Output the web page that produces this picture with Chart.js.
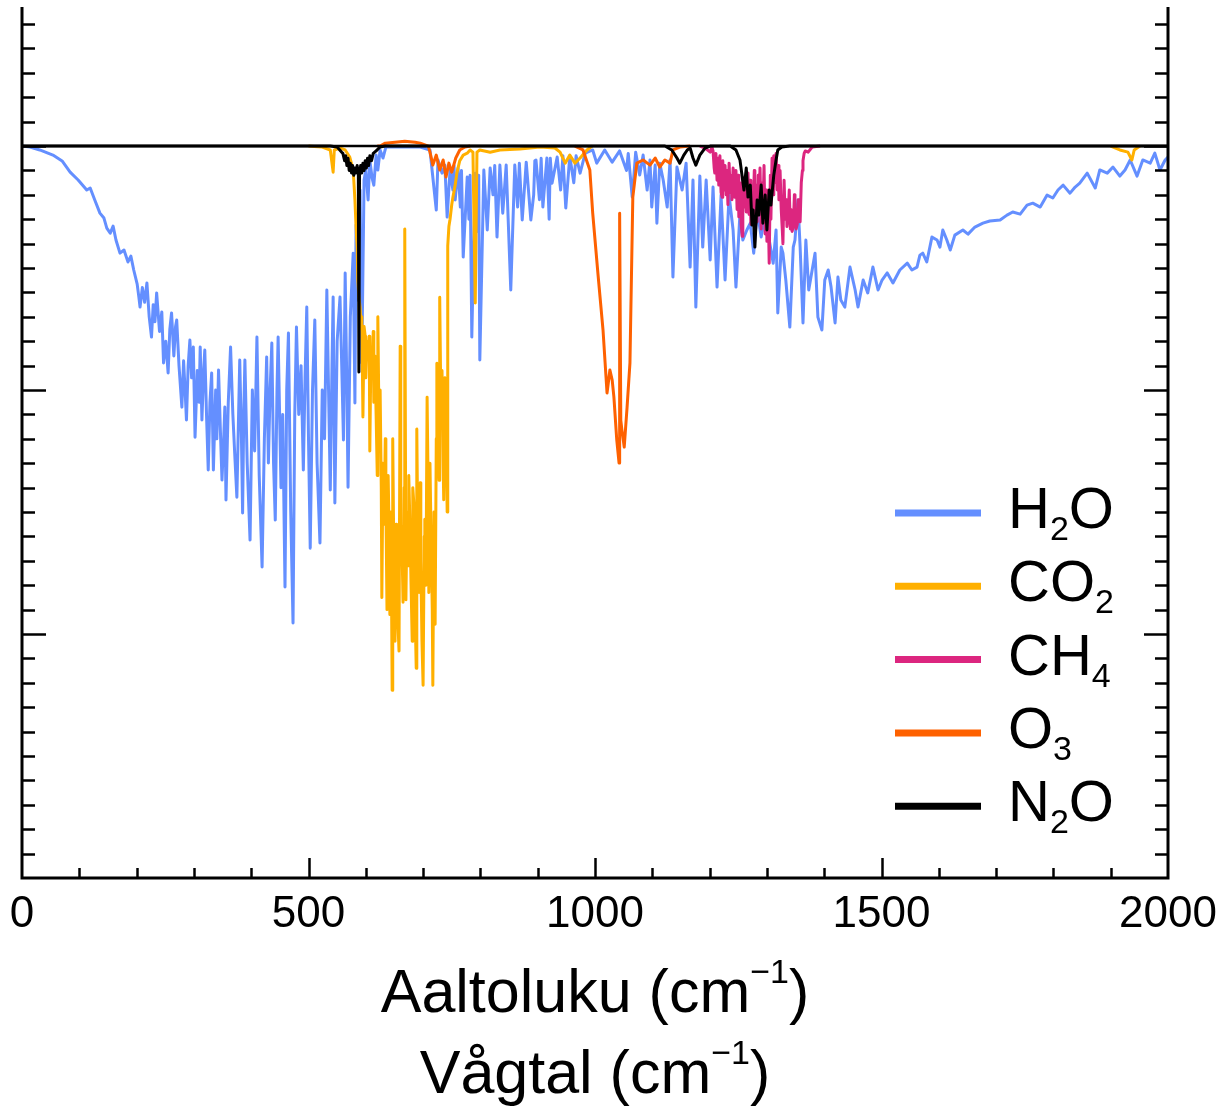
<!DOCTYPE html>
<html><head><meta charset="utf-8">
<script src="https://cdn.jsdelivr.net/npm/chart.js@4.4.1/dist/chart.umd.min.js"></script>
<style>html,body{margin:0;padding:0;background:#fff;}#wrap{width:1231px;height:1109px;position:relative;}</style>
</head><body><div id="wrap"><canvas id="c"></canvas></div>
<script>
// Wavenumber (cm-1), relative absorption (arbitrary units, 0 = baseline)
const h2o = [
[0,0],[14,-0.004],[31,-0.016],[54,-0.037],[70,-0.061],[84,-0.107],[98,-0.139],[113,-0.180],[119,-0.172],[127,-0.221],[136,-0.275],[143,-0.295],[148,-0.336],[154,-0.357],[159,-0.328],[164,-0.385],[171,-0.439],[178,-0.426],[185,-0.475],[190,-0.451],[195,-0.508],
[201,-0.566],[204,-0.62],[206,-0.660],[210,-0.58],[214,-0.64],[218,-0.561],[222,-0.70],[226,-0.783],[229,-0.65],[232,-0.72],[235,-0.602],[240,-0.76],[244,-0.68],[247,-0.889],[251,-0.80],[255,-0.930],[258,-0.75],[261,-0.684],[265,-0.86],[268,-0.74],[270,-0.713],[274,-0.90],[279,-1.070],[282,-0.88],[285,-1.02],[287,-1.123],[290,-0.90],[293,-0.795],[296,-0.95],[299,-0.824],[302,-1.193],[306,-0.92],[309,-1.05],[311,-0.824],[314,-1.123],[317,-0.92],[319,-0.836],[322,-1.10],[325,-1.328],[328,-1.05],[331,-0.930],[334,-1.328],[338,-1.00],[340,-1.20],[343,-0.918],[346,-1.15],[349,-1.369],[352,-1.20],[354,-1.070],[356,-1.451],[360,-1.05],[364,-0.824],[368,-1.10],[371,-1.25],[375,-1.439],[378,-1.10],[380,-0.877],[383,-1.20],[385,-1.504],[387,-1.10],[389,-0.877],[393,-1.30],[398,-1.615],[402,-1.00],[406,-1.25],[410,-0.783],[414,-1.35],[419,-1.725],[423,-1.20],[427,-0.865],[430,-1.299],[433,-1.00],[436,-0.807],[439,-1.30],[442,-1.533],[445,-1.00],[447,-0.783],[452,-1.40],[455,-1.10],[459,-1.807],[462,-1.00],[465,-0.766],[469,-1.50],[473,-1.955],[476,-1.10],[479,-0.742],[483,-1.10],[487,-0.90],[491,-1.328],[494,-0.95],[497,-0.660],[500,-1.20],[503,-1.648],[507,-1.00],[511,-0.713],[515,-1.30],[520,-1.627],[524,-1.00],[528,-1.20],[532,-0.590],[535,-1.00],[538,-1.410],[541,-0.90],[543,-0.619],[546,-1.463],[550,-0.80],[555,-0.619],[558,-0.90],[561,-1.205],[564,-0.520],[567,-1.00],[569,-1.398],[573,-0.70],[578,-0.439],
[581,-1.053],[583,-0.324],[586,-0.631],[590,-0.180],[593,-0.889],[597,-0.139],[600,-0.098],[604,-0.221],[607,-0.057],[611,-0.131],[614,-0.160],[618,-0.037],[621,-0.098],[625,-0.016],[630,-0.049],[635,-0.004],[695,-0.004],[712,-0.016],[723,-0.262],[726,-0.057],[733,-0.111],[738,-0.078],[742,-0.291],[747,-0.098],[752,-0.18],[754,-0.08],[756,-0.221],[761,-0.090],[765,-0.25],[767,-0.10],[770,-0.455],[777,-0.127],[780,-0.30],[782,-0.12],[785,-0.783],[791,-0.111],[795,-0.35],[797,-0.12],[799,-0.877],[806,-0.098],[812,-0.344],[817,-0.090],[822,-0.20],[825,-0.08],[829,-0.373],[834,-0.078],[839,-0.275],[845,-0.078],[853,-0.590],[860,-0.078],[865,-0.25],[868,-0.07],[873,-0.303],[880,-0.066],[888,-0.303],[893,-0.20],[895,-0.06],[897,-0.057],[903,-0.22],[906,-0.05],[909,-0.250],[916,-0.049],[920,-0.30],[922,-0.05],[925,-0.152],[934,-0.045],[940,-0.18],[944,-0.04],[949,-0.254],[956,-0.041],[963,-0.15],[967,-0.04],[974,-0.111],[983,-0.029],[996,-0.016],[1003,-0.070],[1017,-0.016],[1030,-0.066],[1043,-0.020],[1055,-0.10],[1058,-0.03],[1065,-0.209],[1071,-0.025],[1078,-0.119],[1084,-0.037],[1091,-0.180],[1096,-0.057],[1099,-0.250],[1105,-0.078],[1108,-0.316],[1113,-0.070],[1119,-0.139],[1126,-0.250],[1131,-0.057],[1136,-0.537],[1143,-0.086],[1152,-0.180],[1159,-0.070],[1166,-0.496],[1171,-0.139],[1176,-0.660],[1183,-0.123],[1188,-0.414],[1194,-0.139],[1201,-0.467],[1206,-0.168],[1213,-0.578],[1220,-0.201],[1227,-0.549],[1234,-0.201],[1241,-0.344],[1246,-0.578],[1253,-0.275],[1258,-0.385],[1265,-0.344],[1271,-0.316],[1277,-0.439],[1283,-0.262],[1290,-0.373],[1297,-0.275],[1305,-0.398],[1311,-0.480],[1316,-0.344],[1319,-0.684],[1325,-0.414],[1328,-0.439],[1333,-0.549],[1340,-0.742],[1346,-0.414],[1349,-0.385],[1354,-0.221],[1358,-0.414],[1363,-0.725],[1368,-0.385],[1373,-0.590],[1379,-0.508],[1384,-0.439],[1389,-0.701],[1396,-0.754],[1401,-0.549],[1407,-0.508],[1412,-0.578],[1419,-0.725],[1424,-0.537],[1429,-0.631],[1436,-0.660],[1445,-0.496],[1454,-0.590],[1459,-0.660],[1468,-0.549],[1476,-0.602],[1485,-0.496],[1494,-0.590],[1501,-0.549],[1510,-0.520],[1520,-0.561],[1532,-0.508],[1545,-0.480],[1553,-0.508],[1562,-0.496],[1567,-0.447],[1572,-0.439],[1579,-0.475],[1588,-0.373],[1597,-0.385],[1602,-0.414],[1607,-0.344],[1614,-0.385],[1620,-0.426],[1628,-0.365],[1642,-0.344],[1651,-0.361],[1663,-0.332],[1677,-0.316],[1689,-0.307],[1707,-0.303],[1719,-0.283],[1729,-0.270],[1742,-0.279],[1754,-0.242],[1764,-0.234],[1777,-0.250],[1789,-0.201],[1799,-0.213],[1808,-0.180],[1817,-0.160],[1829,-0.193],[1838,-0.168],[1846,-0.152],[1859,-0.111],[1873,-0.172],[1881,-0.098],[1894,-0.111],[1904,-0.086],[1916,-0.123],[1925,-0.098],[1934,-0.057],[1946,-0.123],[1956,-0.057],[1969,-0.070],[1977,-0.029],[1986,-0.098],[1995,-0.057],[2000,-0.045]
];
const co2 = [
[500,0],[510,-0.002],[524,-0.004],[538,-0.016],[543,-0.107],[545,-0.016],[555,-0.008],[564,-0.016],[572,-0.045],[578,-0.098],
[581,-0.22],[583,-0.33],[585,-0.42],[586,-0.55],[588,-0.62],[590,-0.66],[592,-0.75],[593,-0.70],[595,-1.11],[597,-0.74],[599,-0.78],[600,-0.95],[602,-0.80],[604,-0.86],[606,-0.78],[607,-1.25],[609,-0.84],[611,-0.92],[613,-0.76],[614,-1.05],[616,-0.86],[618,-1.10],[620,-1.35],[621,-0.70],[623,-1.12],[625,-1.00],[627,-1.40],[628,-1.85],[630,-1.30],[632,-1.55],[634,-1.20],[635,-1.45],[637,-1.90],[639,-1.35],[641,-1.62],[642,-1.92],[644,-1.50],[646,-2.23],[647,-1.20],[649,-1.70],[651,-2.03],[653,-1.55],[654,-1.75],[656,-1.95],[658,-2.07],[660,-0.82],[661,-1.55],[663,-1.62],[665,-1.87],[667,-1.40],[668,-0.34],[670,-1.86],[672,-1.50],[674,-1.72],[675,-1.35],[677,-1.55],[679,-1.80],[681,-2.03],[682,-1.40],[684,-1.47],[686,-1.90],[688,-2.14],[689,-1.16],[691,-1.65],[693,-1.83],[695,-1.38],[696,-1.70],[698,-2.03],[700,-2.21],[702,-1.60],[703,-1.53],[705,-1.80],[707,-1.03],[709,-1.45],[710,-1.83],[712,-1.30],[714,-1.62],[716,-1.90],[717,-2.21],[719,-1.50],[721,-1.96],[723,-1.20],[724,-0.89],[726,-1.25],[728,-1.37],[729,-0.62],[731,-1.05],[733,-0.92],[735,-1.30],[736,-1.45],[738,-0.95],[740,-1.12],[742,-1.50],[743,-0.41],[745,-0.33],[747,-0.30],[750,-0.24],[752,-0.21],[756,-0.16],[759,-0.11],[764,-0.06],
[770,-0.037],[777,-0.029],[782,-0.016],[787,-0.025],[791,-0.643],[794,-0.025],[799,-0.016],[817,-0.025],[834,-0.016],[869,-0.012],[904,-0.004],[930,-0.008],[939,-0.025],[948,-0.070],[956,-0.037],[965,-0.070],[974,-0.049],[986,-0.016],[995,0],[1000,null],
[1900,0],[1916,-0.016],[1930,-0.025],[1937,-0.057],[1941,-0.016],[1951,0]
];
const ch4 = [
[1183,0],[1192,-0.008],[1201,-0.025],[1204,-0.004],[1206,-0.02],[1208,-0.09],[1209,-0.11],[1211,-0.03],[1213,-0.14],[1215,-0.05],[1216,-0.16],[1218,-0.04],[1220,-0.19],[1222,-0.21],[1223,-0.06],[1225,-0.18],[1227,-0.08],[1229,-0.20],[1230,-0.10],[1232,-0.24],[1234,-0.07],[1236,-0.19],[1237,-0.12],[1239,-0.22],[1241,-0.09],[1243,-0.17],[1244,-0.21],[1246,-0.10],[1248,-0.26],[1250,-0.12],[1251,-0.29],[1253,-0.15],[1255,-0.32],[1257,-0.37],[1258,-0.13],[1260,-0.25],[1262,-0.15],[1264,-0.27],[1265,-0.24],[1267,-0.11],[1269,-0.28],[1271,-0.14],[1272,-0.32],[1274,-0.18],[1276,-0.27],[1278,-0.10],[1279,-0.30],[1281,-0.16],[1283,-0.31],[1285,-0.12],[1286,-0.25],[1288,-0.09],[1290,-0.34],[1292,-0.15],[1293,-0.28],[1295,-0.08],[1297,-0.36],[1299,-0.18],[1300,-0.39],[1302,-0.22],[1304,-0.48],[1306,-0.12],[1307,-0.30],[1309,-0.05],[1311,-0.20],[1312,-0.04],[1314,-0.15],[1316,-0.03],[1318,-0.18],[1320,-0.08],[1321,-0.22],[1323,-0.10],[1325,-0.26],[1327,-0.35],[1328,-0.40],[1330,-0.14],[1332,-0.30],[1334,-0.22],[1335,-0.33],[1337,-0.29],[1339,-0.18],[1341,-0.34],[1342,-0.26],[1344,-0.35],[1346,-0.33],[1348,-0.20],[1349,-0.30],[1351,-0.34],[1353,-0.32],[1355,-0.22],[1356,-0.29],[1358,-0.31],[1360,-0.15],[1362,-0.10],[1363,-0.06],[1365,-0.03],[1367,-0.02],[1372,-0.025],[1379,-0.004],[1393,0]
];
const o3 = [
[620,0],[625,0],[634,0.012],[651,0.016],[668,0.020],[686,0.016],[695,0.012],[709,0],[712,-0.025],[717,-0.078],[723,-0.037],[729,-0.098],[735,-0.057],[740,-0.127],[745,-0.070],[750,-0.107],[757,-0.049],[764,-0.016],[773,-0.004],[782,0],[800,null],
[965,0],[979,-0.016],[991,-0.098],[996,-0.275],[1005,-0.520],[1014,-0.754],[1021,-1.012],[1026,-0.918],[1030,-0.959],[1033,-1.029],[1038,-1.205],[1042,-1.299],[1043,-0.275],[1045,-1.123],[1047,-1.164],[1051,-1.234],[1056,-1.070],[1061,-0.889],[1066,-0.209],[1073,-0.070],[1084,-0.057],[1096,-0.078],[1105,-0.049],[1113,-0.086],[1122,-0.057],[1131,-0.070],[1136,-0.016],[1148,-0.004],[1166,0]
];
const n2o = [
[0,0],[538,0],[550,-0.004],[558,-0.025],[560,-0.03],[563,-0.06],[565,-0.04],[567,-0.08],[569,-0.05],[571,-0.10],[573,-0.07],[575,-0.11],[577,-0.08],[579,-0.12],[581,-0.09],[583,-0.11],[585,-0.08],[587,-0.12],[588,-0.926],[589,-0.12],[591,-0.08],[593,-0.11],[595,-0.07],[597,-0.10],[599,-0.06],[601,-0.09],[603,-0.05],[605,-0.08],[607,-0.04],[610,-0.06],[613,-0.03],[618,-0.02],[625,-0.004],[634,0],[1122,0],[1134,-0.016],[1143,-0.049],[1148,-0.070],[1155,-0.037],[1161,-0.016],[1166,-0.008],[1171,-0.049],[1176,-0.078],[1183,-0.037],[1192,-0.008],[1201,0],[1236,0],[1246,-0.016],[1253,-0.057],[1260,-0.180],[1264,-0.090],[1267,-0.209],[1271,-0.160],[1274,-0.324],[1276,-0.262],[1279,-0.414],[1283,-0.221],[1286,-0.283],[1290,-0.160],[1293,-0.316],[1297,-0.201],[1300,-0.344],[1304,-0.180],[1307,-0.242],[1309,-0.193],[1312,-0.119],[1316,-0.057],[1319,-0.016],[1326,-0.004],[1340,0],[2000,0]
];
const seriesNames = ['H₂O','CO₂','CH₄','O₃','N₂O'];
const seriesColors = ['#648FFF','#FFB000','#DC267F','#FE6100','#000000'];
const xTickLabels = [0,500,1000,1500,2000];
const xTitleLines = ['Aaltoluku (cm⁻¹)','Vågtal (cm⁻¹)'];
const baselineValue = 0;

const FONT = "'Liberation Sans', Arial, Helvetica, sans-serif";
const SUB = {'₀':'0','₁':'1','₂':'2','₃':'3','₄':'4','₅':'5','₆':'6','₇':'7','₈':'8','₉':'9'};
const SUP = {'⁻':'−','¹':'1','²':'2','³':'3'};

function richParts(text){
  const parts=[];
  for(const ch of text){
    let mode='n', c=ch;
    if(SUB[ch]!==undefined){mode='sub';c=SUB[ch];}
    else if(SUP[ch]!==undefined){mode='sup';c=SUP[ch];}
    const last=parts[parts.length-1];
    if(last && last.mode===mode) last.t+=c; else parts.push({mode,t:c});
  }
  return parts;
}
function drawRich(ctx,text,x,y,align,size,subSize,subOff,supSize,supOff){
  const parts=richParts(text);
  const fontFor=m=> (m==='n'?size:(m==='sub'?subSize:supSize))+'px '+FONT;
  let total=0;
  parts.forEach(p=>{ctx.font=fontFor(p.mode);p.w=ctx.measureText(p.t).width;total+=p.w;});
  let cx = align==='center'? x-total/2 : x;
  ctx.textAlign='left';ctx.textBaseline='alphabetic';
  parts.forEach(p=>{
    ctx.font=fontFor(p.mode);
    const dy = p.mode==='sub'?subOff:(p.mode==='sup'?supOff:0);
    ctx.fillText(p.t,cx,y+dy);
    cx+=p.w;
  });
}

const framePlugin = {
  id:'frame',
  afterDatasetsDraw(chart){
    const {ctx, chartArea:a, scales:{y}} = chart;
    const py=y.getPixelForValue(baselineValue);
    ctx.save();
    ctx.strokeStyle='#000';ctx.lineWidth=2.5;
    ctx.beginPath();ctx.moveTo(a.left,py);ctx.lineTo(a.right,py);ctx.stroke();
    ctx.restore();
  },
  afterDraw(chart){
    const {ctx, chartArea:a, scales:{x,y}} = chart;
    ctx.save();
    ctx.strokeStyle='#000';ctx.fillStyle='#000';ctx.lineCap='butt';
    ctx.lineWidth=2.5;
    for(let k=-29;k<=5;k++){
      const py=Math.round(y.getPixelForValue(k/10))+0.5;
      const len=(k%10===0)?24:13;
      ctx.beginPath();
      ctx.moveTo(a.left,py);ctx.lineTo(a.left+len,py);
      ctx.moveTo(a.right,py);ctx.lineTo(a.right-len,py);
      ctx.stroke();
    }
    for(let w=100;w<2000;w+=100){
      const px=Math.round(x.getPixelForValue(w))+0.5;
      const len=(w%500===0)?20:10;
      ctx.beginPath();ctx.moveTo(px,a.bottom);ctx.lineTo(px,a.bottom-len);ctx.stroke();
    }
    ctx.lineWidth=3;
    ctx.beginPath();
    ctx.moveTo(a.left,a.top);ctx.lineTo(a.left,a.bottom);ctx.lineTo(a.right,a.bottom);ctx.lineTo(a.right,a.top);
    ctx.stroke();
    ctx.font='44px '+FONT;ctx.textAlign='center';ctx.textBaseline='alphabetic';
    xTickLabels.forEach(v=>{ctx.fillText(String(v),x.getPixelForValue(v),a.bottom+49);});
    const cx=(a.left+a.right)/2;
    drawRich(ctx,xTitleLines[0],cx,a.bottom+134,'center',61,36,12,34,-29);
    drawRich(ctx,xTitleLines[1],cx,a.bottom+215,'center',61,36,12,34,-29);
    seriesNames.forEach((name,i)=>{
      const ly=513+i*73.3;
      ctx.strokeStyle=seriesColors[i];ctx.lineWidth=7;
      ctx.beginPath();ctx.moveTo(895,ly);ctx.lineTo(981,ly);ctx.stroke();
      ctx.fillStyle='#000';
      drawRich(ctx,name,1008,ly+15,'left',58,34,12,32,-28);
    });
    ctx.restore();
  }
};

const orders=[5,4,3,2,1];
const series=[h2o,co2,ch4,o3,n2o];
new Chart(document.getElementById('c'),{
  type:'line',
  data:{datasets: series.map((s,i)=>({
    label:seriesNames[i],
    data:s.map(p=>({x:p[0],y:p[1]})),
    borderColor:seriesColors[i],
    borderWidth:3,
    pointRadius:0,
    tension:0,
    fill:false,
    spanGaps:false,
    borderJoinStyle:'round',
    order:orders[i]
  }))},
  options:{
    responsive:true,maintainAspectRatio:false,devicePixelRatio:1,animation:false,
    layout:{padding:{left:22,right:63,top:7,bottom:231}},
    plugins:{legend:{display:false},tooltip:{enabled:false}},
    scales:{
      x:{type:'linear',min:0,max:2000,display:false},
      y:{type:'linear',min:-3,max:0.57,display:false}
    }
  },
  plugins:[framePlugin]
});
</script></body></html>
